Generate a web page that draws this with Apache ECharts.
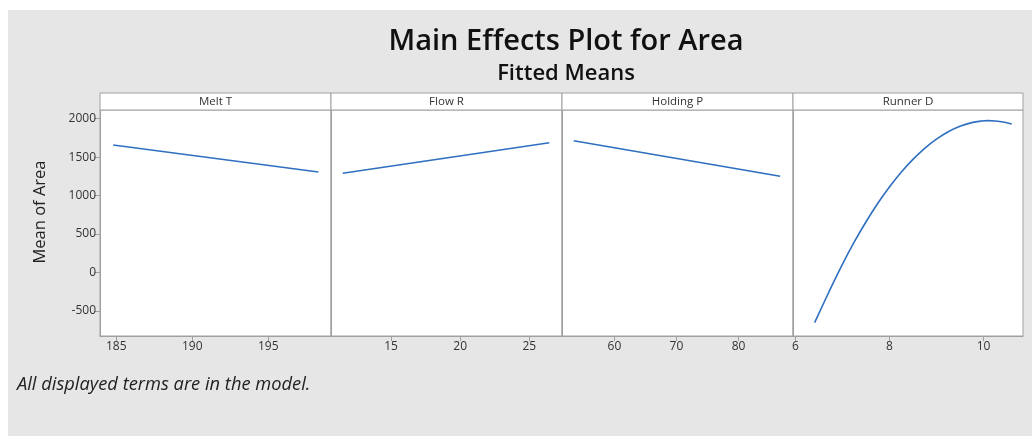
<!DOCTYPE html>
<html>
<head>
<meta charset="utf-8">
<script src="https://cdn.jsdelivr.net/npm/echarts@6/dist/echarts.min.js"></script>
<style>
  html, body { margin: 0; padding: 0; background: #ffffff; }
  #wrap { position: relative; width: 1032px; height: 436px; overflow: hidden; }
  #bg { position: absolute; left: 8px; top: 10px; right: 0; bottom: 0; background: #e6e6e6; }
  #chart { position: absolute; left: 0; top: 0; width: 1032px; height: 436px; }
</style>
</head>
<body>
<div id="wrap"><div id="bg"></div><div id="chart"></div></div>
<script>
// ---- data ----
const panelNames = ["Melt T", "Flow R", "Holding P", "Runner D"];

const meltX = [184.8, 198.3];
const meltY = [1658, 1308];

const flowX = [11.5, 26.45];
const flowY = [1291, 1688];

const holdX = [53.45, 86.7];
const holdY = [1714, 1252];

const runnerX = [6.41, 6.75, 7.0, 7.25, 7.5, 7.75, 8.0, 8.25, 8.5, 8.75, 9.0, 9.25, 9.5, 9.75, 9.95, 10.1, 10.25, 10.45, 10.6];
const runnerY = [-650, -206, 106, 394, 657, 897, 1112, 1304, 1471, 1615, 1734, 1830, 1901, 1949, 1969, 1975, 1971, 1953, 1931];

const xTicks = [[185, 190, 195], [15, 20, 25], [60, 70, 80], [6, 8, 10]];
const xRanges = [[183.93, 199.13], [10.65, 27.37], [51.56, 88.77], [5.95, 10.84]];
const yTicks = [-500, 0, 500, 1000, 1500, 2000];
const yRange = [-825, 2113];

const seriesX = [meltX, flowX, holdX, runnerX];
const seriesY = [meltY, flowY, holdY, runnerY];

// ---- layout ----
const panelLefts = [100, 331, 562, 793];
const panelWidths = [231, 231, 231, 230];
const plotTop = 110, plotBottom = 336;
const stripTop = 93;
const axisGray = '#a0a0a0';
const textColor = '#333333';
const font = '"Open Sans", "Noto Sans", sans-serif';

const chart = echarts.init(document.getElementById('chart'), null, { renderer: 'canvas' });

const grids = [], xAxes = [], yAxes = [], series = [], graphics = [];
for (let i = 0; i < 4; i++) {
  grids.push({
    left: panelLefts[i], top: plotTop, width: panelWidths[i], height: plotBottom - plotTop,
    show: true, backgroundColor: '#ffffff', borderColor: axisGray, borderWidth: 1
  });
  xAxes.push({
    type: 'value', gridIndex: i, min: xRanges[i][0], max: xRanges[i][1], position: 'bottom',
    axisLine: { show: true, onZero: false, lineStyle: { color: axisGray, width: 1 } },
    axisTick: { show: true, length: 5, lineStyle: { color: axisGray }, customValues: xTicks[i] },
    axisLabel: { color: textColor, fontSize: 12, fontFamily: font, margin: 5, customValues: xTicks[i],
                 formatter: v => String(v) },
    splitLine: { show: false }
  });
  yAxes.push({
    type: 'value', gridIndex: i, min: yRange[0], max: yRange[1], position: 'left',
    axisLine: { show: true, onZero: false, lineStyle: { color: axisGray, width: 1 } },
    axisTick: { show: i === 0, length: 6, lineStyle: { color: axisGray }, customValues: yTicks },
    axisLabel: { show: i === 0, color: textColor, fontSize: 12, fontFamily: font, margin: 4, customValues: yTicks,
                 formatter: v => String(v) },
    splitLine: { show: false }
  });
  const pts = seriesX[i].map((x, k) => [x, seriesY[i][k]]);
  series.push({
    type: 'line', xAxisIndex: i, yAxisIndex: i, data: pts,
    smooth: i === 3 ? 0.35 : false, showSymbol: false, symbol: 'none',
    lineStyle: { color: '#2f6fc0', width: 1.6 }, silent: true, animation: false
  });
  graphics.push({
    type: 'rect', z: 10,
    shape: { x: panelLefts[i], y: stripTop, width: panelWidths[i], height: plotTop - stripTop },
    style: { fill: '#ffffff', stroke: axisGray, lineWidth: 1 }
  });
  graphics.push({
    type: 'text', z: 11,
    x: panelLefts[i] + panelWidths[i] / 2, y: (stripTop + plotTop) / 2,
    style: { text: panelNames[i], fill: textColor, font: '11.5px ' + font, align: 'center', verticalAlign: 'middle' }
  });
}
graphics.push({
  type: 'text', z: 11, x: 40, y: 212, rotation: Math.PI / 2,
  style: { text: 'Mean of Area', fill: '#222', font: '16.5px ' + font, align: 'center', verticalAlign: 'middle' }
});
graphics.push({
  type: 'text', z: 11, x: 17, y: 385,
  style: { text: 'All displayed terms are in the model.', fill: '#222', font: 'italic 18.3px ' + font, align: 'left', verticalAlign: 'middle' }
});

chart.setOption({
  backgroundColor: 'transparent',
  animation: false,
  title: [
    { text: 'Main Effects Plot for Area', left: 561, top: 22, textAlign: 'center',
      textStyle: { fontSize: 29, fontWeight: 600, color: '#111', fontFamily: font } },
    { text: 'Fitted Means', left: 561, top: 58, textAlign: 'center',
      textStyle: { fontSize: 22, fontWeight: 600, color: '#111', fontFamily: font } }
  ],
  grid: grids, xAxis: xAxes, yAxis: yAxes, series: series, graphic: graphics
});
</script>
</body>
</html>
